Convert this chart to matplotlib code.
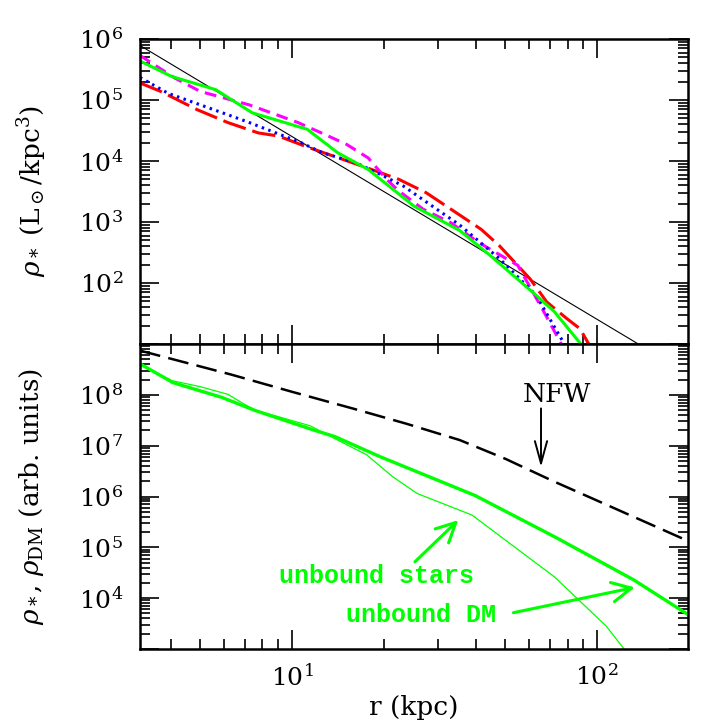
import matplotlib
matplotlib.use('Agg')
import matplotlib.pyplot as plt
import numpy as np
from matplotlib.ticker import FuncFormatter, LogLocator

# ---------------- data (log10 values) ----------------
# top panel: stellar density profiles rho_* (Lsun/kpc^3) vs r (kpc)
pow_logr = [0.502, 2.135]
pow_logrho = [5.894, 1.00]

green_logr = [0.502, 0.606, 0.75, 0.87, 1.05, 1.15, 1.25, 1.31, 1.40, 1.55, 1.65, 1.80, 1.86, 1.95]
green_logrho = [5.64, 5.385, 5.17, 4.79, 4.52, 4.135, 3.86, 3.62, 3.26, 2.86, 2.45, 1.80, 1.53, 0.98]

magenta_logr = [0.502, 0.616, 0.70, 0.78, 0.86, 1.02, 1.11, 1.18, 1.25, 1.31, 1.35, 1.43, 1.52, 1.61, 1.74, 1.82, 1.885]
magenta_logrho = [5.73, 5.36, 5.14, 5.03, 4.92, 4.63, 4.43, 4.27, 4.05, 3.70, 3.51, 3.21, 2.99, 2.67, 2.29, 1.58, 0.98]

blue_logr = [0.502, 0.594, 0.70, 0.85, 1.03, 1.10, 1.21, 1.29, 1.365, 1.46, 1.55, 1.68, 1.80, 1.895]
blue_logrho = [5.37, 5.11, 4.92, 4.65, 4.30, 4.135, 3.97, 3.78, 3.59, 3.26, 2.95, 2.40, 1.80, 0.98]

red_logr = [0.502, 0.57, 0.69, 0.79, 0.89, 0.955, 1.05, 1.245, 1.35, 1.44, 1.53, 1.62, 1.68, 1.78, 1.835, 1.90, 1.944, 1.975]
red_logrho = [5.28, 5.14, 4.84, 4.63, 4.46, 4.41, 4.23, 3.89, 3.70, 3.48, 3.18, 2.88, 2.61, 2.07, 1.69, 1.42, 1.25, 0.98]

# bottom panel: NFW, unbound DM, unbound stars (arbitrary units)
nfw_logr = [0.502, 0.80, 1.00, 1.20, 1.376, 1.55, 1.70, 1.857, 2.00, 2.15, 2.30]
nfw_logrho = [8.87, 8.40, 8.06, 7.73, 7.43, 7.11, 6.74, 6.30, 5.92, 5.52, 5.12]

dm_logr = [0.502, 0.61, 0.77, 0.88, 1.07, 1.14, 1.29, 1.60, 1.86, 2.12, 2.30]
dm_logrho = [8.61, 8.24, 7.95, 7.69, 7.31, 7.18, 6.78, 6.02, 5.21, 4.36, 3.67]

stars_logr = [0.502, 0.606, 0.70, 0.79, 0.84, 0.88, 1.06, 1.14, 1.245, 1.33, 1.41, 1.59, 1.86, 2.03, 2.095]
stars_logrho = [8.61, 8.28, 8.16, 8.01, 7.83, 7.70, 7.39, 7.14, 6.82, 6.39, 6.06, 5.635, 4.42, 3.45, 2.95]

top_labels = [2, 3, 4, 5, 6]
bot_labels = [4, 5, 6, 7, 8]
x_labels = [1, 2]

def tenpow(a):
    return np.power(10.0, np.asarray(a, dtype=float))

# ---------------- style ----------------
plt.rcParams.update({
    'font.family': ['DejaVu Serif'],
    'mathtext.fontset': 'dejavuserif',
    'lines.scale_dashes': False,
    'axes.linewidth': 1.8,
})

fig = plt.figure(figsize=(7.27, 7.27), dpi=100)
ax1 = fig.add_axes([0.19257, 0.52682, 0.75378, 0.41953])
ax2 = fig.add_axes([0.19257, 0.10729, 0.75378, 0.41953], sharex=ax1)

for ax in (ax1, ax2):
    ax.set_xscale('log')
    ax.set_yscale('log')
    ax.tick_params(which='both', direction='in', top=True, right=True,
                   labelsize=18, width=1.2)
    ax.tick_params(which='major', length=14)
    ax.tick_params(which='minor', length=7)
    ax.tick_params(axis='y', which='both', pad=12)
    ax.tick_params(axis='x', which='both', pad=11)
    ax.yaxis.set_major_locator(LogLocator(base=10, numticks=20))
    ax.yaxis.set_minor_locator(LogLocator(base=10, subs=np.arange(2, 10), numticks=20))

ax1.set_xlim(10 ** 0.502, 10 ** 2.298)
ax1.set_ylim(10 ** 1.0, 10 ** 6.0)
ax2.set_ylim(10 ** 3.0, 10 ** 9.0)

def make_fmt(allowed):
    def f(v, pos):
        e = int(round(np.log10(v)))
        if e in allowed and abs(np.log10(v) - e) < 1e-6:
            return r'$10^{%d}$' % e
        return ''
    return FuncFormatter(f)

ax1.yaxis.set_major_formatter(make_fmt(top_labels))
ax2.yaxis.set_major_formatter(make_fmt(bot_labels))
ax2.xaxis.set_major_formatter(make_fmt(x_labels))
ax1.tick_params(axis='x', labelbottom=False)
ax1.yaxis.set_minor_formatter(FuncFormatter(lambda v, p: ''))
ax2.yaxis.set_minor_formatter(FuncFormatter(lambda v, p: ''))
ax2.xaxis.set_minor_formatter(FuncFormatter(lambda v, p: ''))

# ---------------- top panel ----------------
ax1.plot(tenpow(pow_logr), tenpow(pow_logrho), color='black', lw=0.8)
ax1.plot(tenpow(red_logr), tenpow(red_logrho), color='#ff0000', lw=2.2,
         linestyle=(0, (17, 5)))
ax1.plot(tenpow(magenta_logr), tenpow(magenta_logrho), color='#ff00ff', lw=2.2,
         linestyle=(0, (8.5, 5)))
ax1.plot(tenpow(blue_logr), tenpow(blue_logrho), color='#0000ff', lw=2.2,
         linestyle=(0, (1.8, 3.2)))
ax1.plot(tenpow(green_logr), tenpow(green_logrho), color='#00ff00', lw=2.2)

# ---------------- bottom panel ----------------
ax2.plot(tenpow(nfw_logr), tenpow(nfw_logrho), color='black', lw=1.8,
         linestyle=(0, (15, 6)))
ax2.plot(tenpow(dm_logr), tenpow(dm_logrho), color='#00ff00', lw=2.4)
ax2.plot(tenpow(stars_logr), tenpow(stars_logrho), color='#00ff00', lw=0.9)

ax2.text(74, 1.0e8, 'NFW', fontsize=19, ha='center', va='center', color='black')
ax2.annotate('', xy=(65.5, 3.8e6), xytext=(65.5, 5.4e7),
             arrowprops=dict(arrowstyle='->,head_length=0.8,head_width=0.22',
                             color='black', lw=1.4, mutation_scale=20,
                             shrinkA=0, shrinkB=0))

ax2.text(18.9, 1.99e4, 'unbound stars', fontsize=18, ha='center', va='baseline',
         color='#00ff00', family='Liberation Mono', fontweight='bold')
ax2.text(26.4, 3.44e3, 'unbound DM', fontsize=18, ha='center', va='baseline',
         color='#00ff00', family='Liberation Mono', fontweight='bold')
ax2.annotate('', xy=(35.1, 3.44e5), xytext=(25.3, 5.2e4),
             arrowprops=dict(arrowstyle='->,head_length=0.7,head_width=0.35',
                             color='#00ff00', lw=2.2, mutation_scale=20,
                             shrinkA=0, shrinkB=0))
ax2.annotate('', xy=(133, 1.63e4), xytext=(53.2, 5.18e3),
             arrowprops=dict(arrowstyle='->,head_length=0.7,head_width=0.35',
                             color='#00ff00', lw=2.2, mutation_scale=20,
                             shrinkA=0, shrinkB=0))

ax2.set_xlabel('r (kpc)', fontsize=19, labelpad=3)

fig.text(0.044, (727 - 191.5) / 727, r'$\rho_*$ (L$_\odot$/kpc$^3$)', rotation=90,
         fontsize=19, ha='center', va='center')
fig.text(0.044, (727 - 496.5) / 727, r'$\rho_*$, $\rho_{\rm DM}$ (arb. units)', rotation=90,
         fontsize=19, ha='center', va='center')

fig.savefig('out.png', dpi=100)
